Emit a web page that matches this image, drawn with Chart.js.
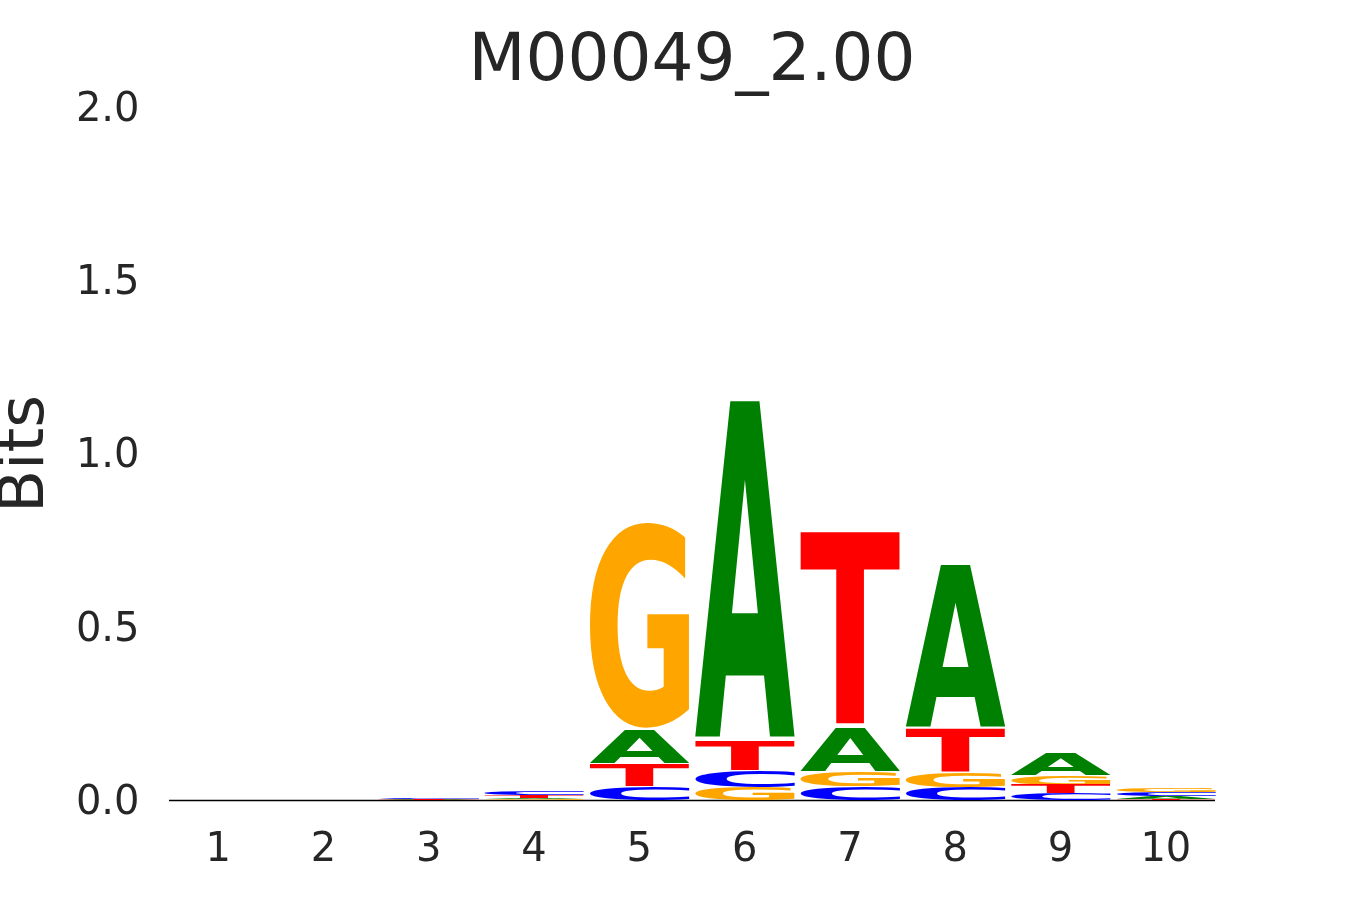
<!DOCTYPE html>
<html>
<head>
<meta charset="utf-8">
<title>M00049_2.00</title>
<script src="https://cdn.jsdelivr.net/npm/chart.js@4.4.1/dist/chart.umd.min.js"></script>
<style>
    body { margin: 0; background: #ffffff; }
    #wrap { width: 1350px; height: 900px; }
</style>
</head>
<body>
<div id="wrap"><canvas id="logoChart" width="1350" height="900"></canvas></div>
<script>
// Positions along the motif
const positions = ['1', '2', '3', '4', '5', '6', '7', '8', '9', '10'];

// Letter heights in bits
const bitsA = [0.0004, 0.0006, 0.0015, 0.005, 0.095, 0.994, 0.128, 0.479, 0.064, 0.008];
const bitsC = [0.0004, 0.0006, 0.0020, 0.010, 0.040, 0.049, 0.040, 0.038, 0.020, 0.011];
const bitsG = [0.0004, 0.0005, 0.0010, 0.003, 0.609, 0.038, 0.044, 0.043, 0.027, 0.012];
const bitsT = [0.0004, 0.0006, 0.0015, 0.007, 0.067, 0.085, 0.570, 0.128, 0.025, 0.004];

const yTicks = [0, 0.5, 1.0, 1.5, 2.0];

const letters = ['A', 'C', 'G', 'T'];
const letterBits = { A: bitsA, C: bitsC, G: bitsG, T: bitsT };
const letterColors = { A: '#008000', C: '#0000ff', G: '#ffa500', T: '#ff0000' };

// Stack letters in each column, smallest at the bottom
const stacks = {};
letters.forEach(l => stacks[l] = []);
positions.forEach((p, i) => {
    const order = letters.slice().sort((a, b) => letterBits[a][i] - letterBits[b][i]);
    let floor = 0;
    order.forEach(l => {
        const h = letterBits[l][i];
        stacks[l][i] = [floor, floor + h];
        floor += h;
    });
});

// Draws each bar as a stretched letter glyph
const glyphPlugin = {
    id: 'glyphs',
    afterLayout(chart) {
        // centre the title over the plot, not the whole canvas
        if (chart.titleBlock) {
            chart.titleBlock.left = chart.chartArea.left;
            chart.titleBlock.right = chart.chartArea.right;
        }
    },
    beforeDatasetsDraw(chart) {
        const { ctx, chartArea, scales } = chart;
        const y0 = scales.y.getPixelForValue(0);
        ctx.save();
        ctx.strokeStyle = '#000000';
        ctx.lineWidth = 1.3;
        ctx.beginPath();
        ctx.moveTo(chartArea.left + 3.5, y0);
        ctx.lineTo(chartArea.right - 3.5, y0);
        ctx.stroke();
        ctx.restore();
    },
    afterDatasetsDraw(chart) {
        const ctx = chart.ctx;
        chart.data.datasets.forEach((ds, di) => {
            const meta = chart.getDatasetMeta(di);
            meta.data.forEach(bar => {
                const p = bar.getProps(['x', 'y', 'base', 'width'], true);
                const top = Math.min(p.y, p.base);
                const h = Math.abs(p.base - p.y);
                if (h < 0.05) return;
                const pad = h * 0.0125;
                drawGlyph(ctx, ds.label, ds.glyphColor, p.x - p.width / 2, top + pad, p.width, h - 2 * pad);
            });
        });
    }
};

function drawGlyph(ctx, ch, color, left, top, w, h) {
    ctx.save();
    ctx.font = 'bold 200px "DejaVu Sans"';
    ctx.textAlign = 'left';
    ctx.textBaseline = 'alphabetic';
    const m = ctx.measureText(ch);
    const gw = m.actualBoundingBoxLeft + m.actualBoundingBoxRight;
    const gh = m.actualBoundingBoxAscent + m.actualBoundingBoxDescent;
    ctx.translate(left, top);
    ctx.scale(w / gw, h / gh);
    ctx.fillStyle = color;
    ctx.fillText(ch, m.actualBoundingBoxLeft, m.actualBoundingBoxAscent);
    ctx.restore();
}

Chart.defaults.font.family = '"DejaVu Sans", sans-serif';
Chart.defaults.color = '#262626';

const ctx = document.getElementById('logoChart').getContext('2d');
const logoChart = new Chart(ctx, {
    type: 'bar',
    data: {
        labels: positions,
        datasets: letters.map(l => ({
            label: l,
            data: stacks[l],
            glyphColor: letterColors[l],
            backgroundColor: 'rgba(0,0,0,0)',
            borderWidth: 0,
            grouped: false,
            barPercentage: 0.95,
            categoryPercentage: 1.0
        }))
    },
    options: {
        responsive: false,
        animation: false,
        layout: {
            padding: { left: 2.5, right: 131.5, top: 0, bottom: -1.7 }
        },
        plugins: {
            legend: { display: false },
            tooltip: { enabled: false },
            title: {
                display: true,
                text: 'M00049_2.00',
                color: '#262626',
                font: { size: 66, weight: 'normal', lineHeight: 1.2 },
                padding: { top: 23.4, bottom: 4.9 }
            }
        },
        scales: {
            x: {
                grid: { display: false, drawTicks: false },
                border: { display: false },
                ticks: { font: { size: 40, lineHeight: 1.2 }, padding: 26.6, color: '#262626' }
            },
            y: {
                min: 0,
                max: 2,
                afterBuildTicks: axis => { axis.ticks = yTicks.map(v => ({ value: v })); },
                grid: { display: false, drawTicks: false },
                border: { display: false },
                ticks: {
                    font: { size: 40 },
                    padding: 26,
                    labelOffset: 3,
                    color: '#262626',
                    callback: v => Number(v).toFixed(1)
                },
                title: {
                    display: true,
                    text: 'Bits',
                    color: '#262626',
                    font: { size: 63, lineHeight: 0.752 },
                    padding: 0
                }
            }
        }
    },
    plugins: [glyphPlugin]
});
</script>
</body>
</html>
